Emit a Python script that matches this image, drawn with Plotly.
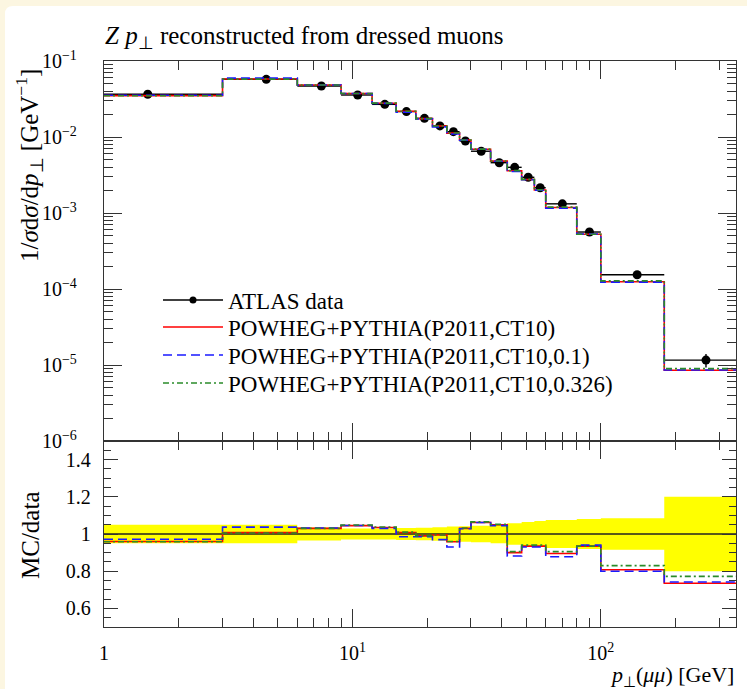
import math
import plotly.graph_objects as go

# ---- data -----------------------------------------------------------------
# bin edges in p_T(mu mu) [GeV]
pt_edges = [0, 3, 6, 9, 12, 15, 18, 21, 24, 27, 30, 36, 42, 48, 54, 60, 80, 100, 180, 350]

# ATLAS measurement, 1/sigma dsigma/dpT [GeV^-1]
data_xsec = [0.0365, 0.0574, 0.0469, 0.0357, 0.0269, 0.0216, 0.0176, 0.0140, 0.01175,
             0.00886, 0.0065, 0.00459, 0.00399, 0.00295, 0.00215, 0.00132, 0.000562,
             0.000154, 1.16e-5]
# relative uncertainty of the measurement
data_relerr = [0.05, 0.05, 0.035, 0.03, 0.03, 0.032, 0.034, 0.036, 0.04, 0.042, 0.045,
               0.05, 0.058, 0.065, 0.07, 0.075, 0.08, 0.085, 0.2]

# MC / data for the three POWHEG+PYTHIA setups
ratio_ct10 = [0.96, 1.008, 1.03, 1.045, 1.035, 1.008, 0.99, 0.995, 0.958, 1.03, 1.062,
              1.05, 0.9, 0.935, 0.935, 0.895, 0.935, 0.808, 0.735]
ratio_ct10_01 = [0.972, 1.037, 1.032, 1.046, 1.03, 0.985, 0.985, 0.97, 0.93, 1.028, 1.062,
                 1.045, 0.882, 0.93, 0.93, 0.878, 0.94, 0.8, 0.742]
ratio_ct10_0326 = [0.958, 1.005, 1.03, 1.048, 1.038, 1.01, 0.99, 0.995, 0.96, 1.032, 1.065,
                   1.052, 0.905, 0.94, 0.94, 0.905, 0.935, 0.83, 0.772]

data_name = "ATLAS data"
series_names = ["POWHEG+PYTHIA(P2011,CT10)",
                "POWHEG+PYTHIA(P2011,CT10,0.1)",
                "POWHEG+PYTHIA(P2011,CT10,0.326)"]

x_ticks = [1, 10, 100]
x_ticklabels = ["1", "10<sup>1</sup>", "10<sup>2</sup>"]
y_ticks = [1e-6, 1e-5, 1e-4, 1e-3, 1e-2, 1e-1]
y_ticklabels = ["10<sup>−6</sup>", "10<sup>−5</sup>", "10<sup>−4</sup>",
                "10<sup>−3</sup>", "10<sup>−2</sup>", "10<sup>−1</sup>"]
r_ticks = [0.6, 0.8, 1.0, 1.2, 1.4]
r_ticklabels = ["0.6", "0.8", "1", "1.2", "1.4"]

# ---- geometry / style -----------------------------------------------------
W, H = 747, 689
ML, MR, MT, MB = 104, 11, 61, 62
PW, PH = W - ML - MR, H - MT - MB
RATIO_PX = 186
SPLIT = RATIO_PX / PH

X_MIN, X_MAX = 1, 350
X_RANGE = [math.log10(X_MIN), math.log10(X_MAX)]
FONT = "Liberation Serif"
INK = "#333333"
COL_RED, COL_BLUE, COL_GREEN = "#ff0000", "#1a1aff", "#2a8c2a"
styles = [dict(color=COL_RED, width=1.6, dash="solid"),
          dict(color=COL_BLUE, width=1.6, dash="9px,5px"),
          dict(color=COL_GREEN, width=1.6, dash="6px,3px,2px,3px")]


def px_x(p):
    return (p - ML) / PW


def px_y(p):
    return (H - MB - p) / PH


def step(vals):
    xs = [max(e, X_MIN) for e in pt_edges]
    return xs, list(vals) + [vals[-1]]


centers = [(lo + hi) / 2 for lo, hi in zip(pt_edges[:-1], pt_edges[1:])]
ratios = [ratio_ct10, ratio_ct10_01, ratio_ct10_0326]
legend_ids = ["legend", "legend2", "legend3", "legend4"]
legend_rows_px = [300, 327, 355, 383]

fig = go.Figure()

# ---- main panel -----------------------------------------------------------
hx, hy = [], []
for lo, hi, v in zip(pt_edges[:-1], pt_edges[1:], data_xsec):
    hx += [max(lo, X_MIN), hi, None]
    hy += [v, v, None]
fig.add_trace(go.Scatter(x=hx, y=hy, mode="lines", xaxis="x2", yaxis="y2",
                         line=dict(color="black", width=1.4), showlegend=False,
                         hoverinfo="skip"))
fig.add_trace(go.Scatter(
    x=centers, y=data_xsec, mode="markers", xaxis="x2", yaxis="y2",
    marker=dict(color="black", size=9),
    error_y=dict(type="data", array=[v * e for v, e in zip(data_xsec, data_relerr)],
                 color="black", thickness=1.4, width=0),
    showlegend=False))
fig.add_trace(go.Scatter(x=[None], y=[None], mode="lines+markers", xaxis="x2", yaxis="y2",
                         line=dict(color="black", width=1.4),
                         marker=dict(color="black", size=7), name=data_name,
                         legend=legend_ids[0]))

for name, rat, st, lid in zip(series_names, ratios, styles, legend_ids[1:]):
    mc = [r * d for r, d in zip(rat, data_xsec)]
    sx, sy = step(mc)
    fig.add_trace(go.Scatter(x=sx, y=sy, mode="lines", line_shape="hv", xaxis="x2",
                             yaxis="y2", line=st, name=name, legend=lid))

# ---- ratio panel ----------------------------------------------------------
bx, blo = step([1 - e for e in data_relerr])
_, bhi = step([1 + e for e in data_relerr])
fig.add_trace(go.Scatter(x=bx, y=blo, mode="lines", line_shape="hv", line=dict(width=0),
                         showlegend=False, hoverinfo="skip"))
fig.add_trace(go.Scatter(x=bx, y=bhi, mode="lines", line_shape="hv", line=dict(width=0),
                         fill="tonexty", fillcolor="#ffff00", showlegend=False,
                         hoverinfo="skip"))
fig.add_trace(go.Scatter(x=[X_MIN, X_MAX], y=[1, 1], mode="lines",
                         line=dict(color="#222222", width=1.3), showlegend=False))
for rat, st in zip(ratios, styles):
    sx, sy = step(rat)
    fig.add_trace(go.Scatter(x=sx, y=sy, mode="lines", line_shape="hv", line=st,
                             showlegend=False))

# ---- axes -----------------------------------------------------------------
x_minor = [k * 10 ** n for n in range(0, 3) for k in range(2, 10) if k * 10 ** n < X_MAX]
y_minor = [k * 10.0 ** n for n in range(-6, -1) for k in range(2, 10)]

frame = dict(showline=True, linecolor=INK, linewidth=1.3, mirror="ticks",
             ticks="inside", tickcolor=INK, tickwidth=1.2, showgrid=False,
             zeroline=False)
tickfont = dict(family=FONT, size=20, color="black")


def x_axis(**kw):
    return dict(type="log", range=X_RANGE, tickmode="array", tickvals=x_ticks,
                ticklen=18,
                minor=dict(tickmode="array", tickvals=x_minor, ticks="inside",
                           ticklen=9, tickcolor=INK, tickwidth=1.2),
                **frame, **kw)


legends = {}
for lid, row in zip(legend_ids, legend_rows_px):
    legends[lid] = dict(x=px_x(158), y=px_y(row), xanchor="left", yanchor="middle",
                        bgcolor="rgba(0,0,0,0)", font=dict(family=FONT, size=23),
                        itemwidth=60, borderwidth=0)

fig.update_layout(
    width=W, height=H,
    margin=dict(l=ML, r=MR, t=MT, b=MB),
    paper_bgcolor="#fcf6e1", plot_bgcolor="white",
    font=dict(family=FONT, color="black"),
    xaxis=x_axis(anchor="y", domain=[0, 1], ticktext=x_ticklabels, tickfont=tickfont,
                 ticklabelstandoff=8),
    yaxis=dict(anchor="x", domain=[0, SPLIT], range=[0.5, 1.5], tickmode="array",
               tickvals=r_ticks, ticktext=r_ticklabels, tickfont=tickfont,
               ticklen=14, ticklabelstandoff=8,
               minor=dict(dtick=0.05, tick0=0, ticks="inside", ticklen=7,
                          tickcolor=INK, tickwidth=1.2), **frame),
    xaxis2=x_axis(anchor="y2", domain=[0, 1], showticklabels=False),
    yaxis2=dict(anchor="x2", domain=[SPLIT, 1], type="log", range=[-6, -1],
                tickmode="array", tickvals=y_ticks, ticktext=y_ticklabels,
                tickfont=tickfont, ticklen=18, ticklabelstandoff=22,
                minor=dict(tickmode="array", tickvals=y_minor, ticks="inside",
                           ticklen=9, tickcolor=INK, tickwidth=1.2), **frame),
    showlegend=True,
    **legends,
)

# white panel with a rounded upper-left corner on the cream page
x0, y0, x1, y1, r = 5, 6, W + 20, H + 20, 8
panel = (f"M {px_x(x0)},{px_y(y0 + r)} Q {px_x(x0)},{px_y(y0)} {px_x(x0 + r)},{px_y(y0)} "
         f"L {px_x(x1)},{px_y(y0)} L {px_x(x1)},{px_y(y1)} L {px_x(x0)},{px_y(y1)} Z")
fig.add_shape(type="path", path=panel, xref="paper", yref="paper",
              fillcolor="white", line=dict(width=0), layer="below")

fig.add_annotation(text="<i>Z p</i><sub>⊥</sub> reconstructed from dressed muons",
                   x=px_x(103), y=px_y(38), xref="paper", yref="paper",
                   xanchor="left", yanchor="middle", showarrow=False,
                   font=dict(family=FONT, size=25))
fig.add_annotation(text="1/<i>σ</i>d<i>σ</i>/d<i>p</i><sub>⊥</sub> [GeV<sup>−1</sup>]",
                   x=px_x(29), y=px_y(166), xref="paper", yref="paper",
                   xanchor="center", yanchor="middle", textangle=-90, showarrow=False,
                   font=dict(family=FONT, size=25))
fig.add_annotation(text="MC/data", x=px_x(30), y=px_y(535), xref="paper", yref="paper",
                   xanchor="center", yanchor="middle", textangle=-90, showarrow=False,
                   font=dict(family=FONT, size=25))
fig.add_annotation(text="<i>p</i><sub>⊥</sub>(<i>μμ</i>) [GeV]",
                   x=1, y=px_y(676), xref="paper", yref="paper",
                   xanchor="right", yanchor="middle", showarrow=False,
                   font=dict(family=FONT, size=22))

fig.write_html("out.html")
